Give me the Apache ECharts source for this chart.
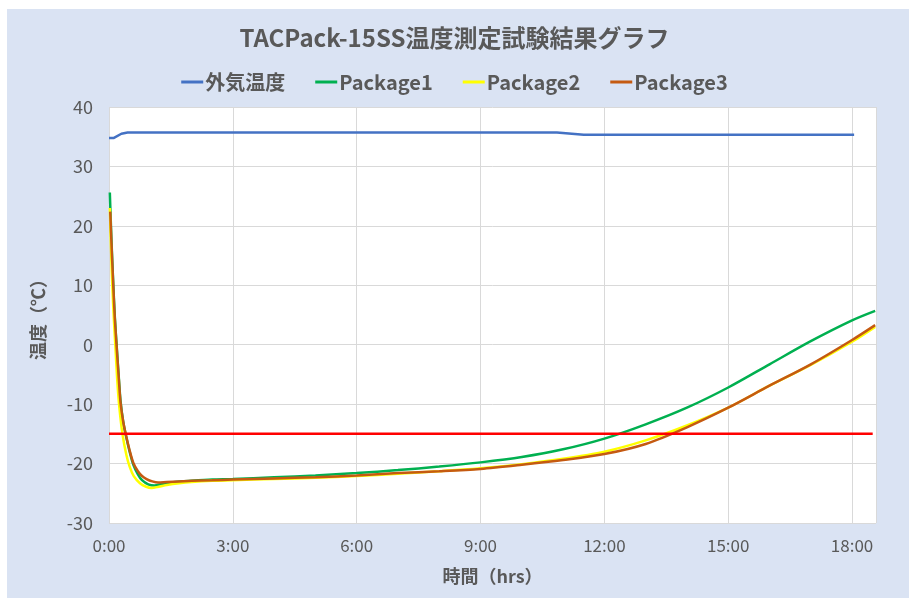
<!DOCTYPE html>
<html>
<head>
<meta charset="utf-8">
<script src="https://cdn.jsdelivr.net/npm/echarts@6/dist/echarts.min.js"></script>
<style>
html,body{margin:0;padding:0;background:#fff;}
#chart{width:909px;height:599px;}
</style>
</head>
<body>
<div id="chart"></div>
<script>
// ---- data (hours, °C) ----
var titleText = 'TACPack-15SS温度測定試験結果グラフ';
var seriesNames = ['外気温度', 'Package1', 'Package2', 'Package3'];
var xTicks = ['0:00', '3:00', '6:00', '9:00', '12:00', '15:00', '18:00'];

var ambientT = [0, 0.12, 0.3, 0.45, 10.85, 11.5, 18.05];
var ambientV = [34.8, 34.8, 35.5, 35.7, 35.7, 35.35, 35.35];

var pkg1T = [0.02, 0.035, 0.06, 0.1, 0.14, 0.19, 0.24, 0.28, 0.34, 0.4, 0.5, 0.59, 0.7, 0.8, 0.95, 1.1, 1.3, 1.6, 2, 2.5, 3, 4, 5, 6, 7, 8, 9, 10, 11, 12, 13, 14, 15, 16, 17, 18, 18.56];
var pkg1V = [25.6, 22.5, 17.5, 10.8, 4.8, -0.6, -5.8, -9.5, -12.8, -15, -18, -20.2, -21.8, -22.8, -23.5, -23.7, -23.4, -23.1, -22.9, -22.7, -22.6, -22.3, -22.0, -21.6, -21.1, -20.5, -19.8, -18.9, -17.6, -15.8, -13.4, -10.6, -7.2, -3.3, 0.6, 4.1, 5.7];

var pkg2T = [0.02, 0.05, 0.08, 0.12, 0.16, 0.2, 0.25, 0.33, 0.42, 0.5, 0.6, 0.75, 0.9, 1.03, 1.2, 1.4, 1.7, 2, 2.5, 3, 4, 5, 6, 7, 8, 9, 10, 11, 12, 13, 14, 15, 16, 17, 18, 18.56];
var pkg2V = [23.0, 16, 10, 4, -1, -6, -10.5, -15.2, -18.5, -20.5, -22.1, -23.3, -23.9, -24.1, -23.9, -23.6, -23.3, -23.1, -22.9, -22.8, -22.6, -22.4, -22.1, -21.7, -21.3, -20.8, -20.1, -19.2, -18.0, -16.1, -13.6, -10.6, -6.9, -3.4, 0.5, 3.0];

var pkg3T = [0.03, 0.06, 0.1, 0.14, 0.19, 0.24, 0.28, 0.34, 0.41, 0.5, 0.59, 0.7, 0.8, 0.91, 1.05, 1.19, 1.4, 1.7, 2, 2.5, 3, 4, 5, 6, 7, 8, 9, 10, 11, 12, 13, 14, 15, 16, 17, 18, 18.56];
var pkg3V = [22.4, 17, 10.4, 4.5, -0.9, -6, -9.8, -12.8, -15.2, -17.8, -19.9, -21.3, -22.1, -22.6, -23.0, -23.2, -23.1, -23.0, -22.9, -22.8, -22.7, -22.5, -22.3, -22.0, -21.6, -21.3, -20.9, -20.2, -19.4, -18.4, -16.7, -13.9, -10.6, -6.9, -3.3, 0.8, 3.3];

var limitT = [0, 18.5];
var limitV = [-15, -15];

function zip(t, v) { return t.map(function (x, i) { return [x, v[i]]; }); }

var FONT = '"Noto Sans CJK JP", "Noto Sans", sans-serif';
var TXT = '#595959';

var chart = echarts.init(document.getElementById('chart'), null, {renderer: 'canvas'});
var lineBase = {type: 'line', symbol: 'none', showSymbol: false, smooth: 0.3, lineStyle: {width: 2.5}};
chart.setOption({
  backgroundColor: '#ffffff',
  animation: false,
  graphic: [{type: 'rect', z: -10, shape: {x: 7, y: 9, width: 902, height: 589}, style: {fill: '#dae3f3'}}],
  title: {text: titleText, left: 'center', top: 21,
    textStyle: {fontFamily: FONT, fontSize: 24, fontWeight: 'bold', color: TXT}},
  legend: {data: seriesNames, top: 67, left: 'center', icon: 'rect', itemWidth: 22, itemHeight: 3, itemGap: 30,
    textStyle: {fontFamily: FONT, fontSize: 20, fontWeight: 'bold', color: TXT, padding: [0, 0, 0, -3]}},
  grid: {left: 109, right: 33, top: 107, bottom: 76, show: true, backgroundColor: '#ffffff', borderWidth: 0},
  xAxis: {type: 'value', min: 0, max: 18.58, interval: 3,
    name: '時間（hrs）', nameLocation: 'middle', nameGap: 44,
    nameTextStyle: {fontFamily: FONT, fontSize: 18, fontWeight: 'bold', color: TXT},
    axisLine: {show: false}, axisTick: {show: false},
    splitLine: {show: true, lineStyle: {color: '#d9d9d9', width: 1}},
    axisLabel: {fontFamily: FONT, fontSize: 17, color: TXT, margin: 14, showMaxLabel: false,
      formatter: function (v) { var i = Math.round(v / 3); return (Math.abs(v - i * 3) < 1e-6 && xTicks[i]) ? xTicks[i] : ''; }}},
  yAxis: {type: 'value', min: -30, max: 40, interval: 10,
    name: '温度（℃）', nameLocation: 'middle', nameGap: 62, nameRotate: 90,
    nameTextStyle: {fontFamily: FONT, fontSize: 18, fontWeight: 'bold', color: TXT},
    axisLine: {show: false}, axisTick: {show: false},
    splitLine: {show: true, lineStyle: {color: '#d9d9d9', width: 1}},
    axisLabel: {fontFamily: FONT, fontSize: 18, color: TXT, margin: 16}},
  series: [
    Object.assign({}, lineBase, {name: seriesNames[0], data: zip(ambientT, ambientV), color: '#4472c4', smooth: false}),
    Object.assign({}, lineBase, {name: seriesNames[1], data: zip(pkg1T, pkg1V), color: '#00b050'}),
    Object.assign({}, lineBase, {name: seriesNames[2], data: zip(pkg2T, pkg2V), color: '#ffff00'}),
    Object.assign({}, lineBase, {name: seriesNames[3], data: zip(pkg3T, pkg3V), color: '#c55a11'}),
    Object.assign({}, lineBase, {name: 'limit', data: zip(limitT, limitV), color: '#ff0000', smooth: false})
  ]
});
</script>
</body>
</html>
